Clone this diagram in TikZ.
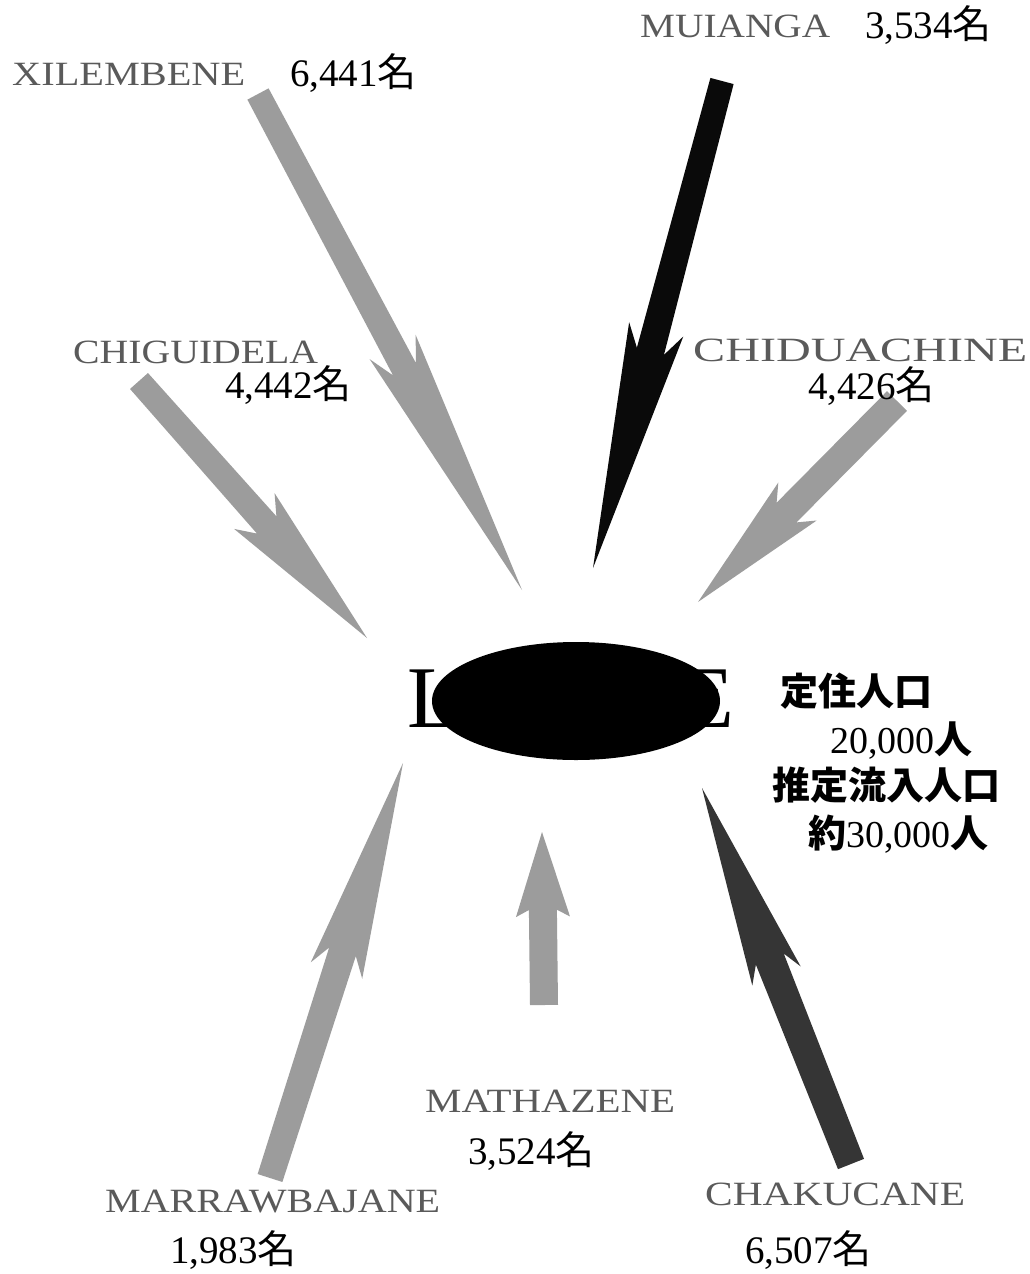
\documentclass[tikz,border=0pt]{standalone}
\usepackage{fontspec}
\usepackage{graphicx}
\setmainfont{Liberation Serif}
\newfontfamily\cjk{Noto Sans CJK JP}
\usetikzlibrary{calc}
\definecolor{arrgray}{HTML}{9C9C9C}
\definecolor{arrdark}{HTML}{353535}
\definecolor{arrblack}{HTML}{0A0A0A}
\definecolor{namegray}{HTML}{5A5A5A}
\newcommand\wedgearrow[8]{%
  \coordinate (wn) at ($(#1)!#6!(#2)$);
  \coordinate (wb) at ($(#1)!#4!(#2)$);
  \fill[#8] ($(#1)!#3!90:(#2)$) -- ($(wn)!#7!90:(#2)$) -- ($(wb)!#5!90:(#2)$) -- (#2)
    -- ($(wb)!#5!-90:(#2)$) -- ($(wn)!#7!-90:(#2)$) -- ($(#1)!#3!-90:(#2)$) -- cycle;}
\newcommand\placename[2]{\resizebox{#1}{\height}{#2}}
\begin{document}
\begin{tikzpicture}[x=1pt,y=-1pt,
  namelab/.style={anchor=base west,inner sep=0pt,text=namegray,font=\fontsize{34}{36}\selectfont},
  numlab/.style={anchor=base west,inner sep=0pt,text=black,font=\fontsize{39}{42}\selectfont},
  jplab/.style={anchor=base west,inner sep=0pt,text=black,font=\fontsize{38}{42}\selectfont}]
\useasboundingbox[fill=white] (0,0) rectangle (1029,1274);

% arrow tails and tips
\coordinate (xilT) at (258,94);   \coordinate (xilP) at (522,590);
\coordinate (muiT) at (722,81);   \coordinate (muiP) at (593,568);
\coordinate (chgT) at (139,381);  \coordinate (chgP) at (367,638);
\coordinate (chdT) at (897,401);  \coordinate (chdP) at (698,602);
\coordinate (marT) at (270,1178); \coordinate (marP) at (403,763);
\coordinate (matT) at (544,1005); \coordinate (matP) at (542,832);
\coordinate (chkT) at (851,1164); \coordinate (chkP) at (702,788);

\wedgearrow{xilT}{xilP}{12pt}{0.51}{26pt}{0.555}{13pt}{arrgray}
\wedgearrow{muiT}{muiP}{12pt}{0.51}{28pt}{0.555}{14pt}{arrblack}
\wedgearrow{chgT}{chgP}{12pt}{0.506}{27pt}{0.56}{13pt}{arrgray}
\wedgearrow{chdT}{chdP}{14pt}{0.50}{27pt}{0.555}{14pt}{arrgray}
\wedgearrow{marT}{marP}{13pt}{0.50}{27pt}{0.545}{14pt}{arrgray}
\wedgearrow{matT}{matP}{14pt}{0.51}{27pt}{0.55}{14pt}{arrgray}
\wedgearrow{chkT}{chkP}{14pt}{0.50}{26pt}{0.545}{15pt}{arrdark}

% centre
\node[anchor=base,inner sep=0pt,font=\fontsize{88}{90}\selectfont] (town) at (571,727) {LIONDE};
\fill[black] (576,701) ellipse [x radius=144, y radius=59];
\coordinate (centre) at (576,701);

% labels
\node[namelab] (xil) at (12,85) {\placename{233pt}{XILEMBENE}};
\node[numlab] (xiln) at (290,86) {6,441{\cjk 名}};
\node[namelab] (mui) at (640,37) {\placename{190pt}{MUIANGA}};
\node[numlab] (muin) at (865,38) {3,534{\cjk 名}};
\node[namelab] (chg) at (73,363) {\placename{245pt}{CHIGUIDELA}};
\node[numlab] (chgn) at (225,398) {4,442{\cjk 名}};
\node[namelab] (chd) at (693,361) {\placename{334pt}{CHIDUACHINE}};
\node[numlab] (chdn) at (808,399) {4,426{\cjk 名}};
\node[namelab] (mat) at (425,1112) {\placename{250pt}{MATHAZENE}};
\node[numlab] (matn) at (468,1164) {3,524{\cjk 名}};
\node[namelab] (mar) at (105,1212) {\placename{335pt}{MARRAWBAJANE}};
\node[numlab] (marn) at (170,1263) {1,983{\cjk 名}};
\node[namelab] (chk) at (705,1205) {\placename{260pt}{CHAKUCANE}};
\node[numlab] (chkn) at (745,1263) {6,507{\cjk 名}};

% population notes
\node[jplab] (p1) at (780,705) {\cjk\bfseries 定住人口};
\node[jplab] (p2) at (830,753) {20,000{\cjk\bfseries 人}};
\node[jplab] (p3) at (772,799) {\cjk\bfseries 推定流入人口};
\node[jplab] (p4) at (808,847) {{\cjk\bfseries 約}30,000{\cjk\bfseries 人}};
\end{tikzpicture}
\end{document}
